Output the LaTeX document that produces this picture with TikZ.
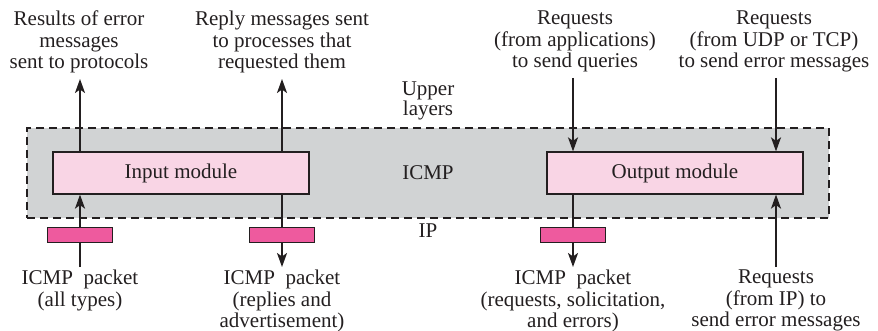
\documentclass[tikz,border=0pt]{standalone}
\usepackage{fontspec}
\setmainfont{Liberation Serif}
\usetikzlibrary{arrows.meta}
\definecolor{ink}{HTML}{231F20}
\definecolor{greyfill}{HTML}{D1D3D4}
\definecolor{modfill}{HTML}{F9D5E5}
\definecolor{pktfill}{HTML}{EE5A9E}
\tikzset{
  lbl/.style={align=center,inner sep=0pt,font=\fontsize{21}{21.5}\selectfont,text=ink},
  greybox/.style={draw=ink,fill=greyfill,dashed,dash pattern=on 8pt off 5pt,line width=1.2pt,minimum width=802pt,minimum height=90pt,inner sep=0pt},
  module/.style={draw=ink,fill=modfill,line width=1.2pt,minimum width=256pt,minimum height=42pt,inner sep=0pt,font=\fontsize{21}{21.5}\selectfont,text=ink},
  pkt/.style={draw=ink,fill=pktfill,line width=1pt,minimum width=65pt,minimum height=14pt,inner sep=0pt},
  arr/.style={draw=ink,line width=1.9pt,-{Stealth[length=14pt,width=10pt,inset=3.5pt]}}
}
\begin{document}
\begin{tikzpicture}[x=1pt,y=-1pt]
\useasboundingbox (0,0) rectangle (878,331);
% grey ICMP region
\node[greybox] (icmp) at (428,173) {};
\node[module] (in) at (181,173) {Input module};
\node[module] (out) at (675,173) {Output module};
% layer labels
\node[lbl,anchor=base] (upper) at (428,96) {Upper};
\node[lbl,anchor=base] (layers) at (428,116) {layers};
\node[lbl,anchor=base] (icmplbl) at (428,180) {ICMP};
\node[lbl,anchor=base] (iplbl) at (428,237) {IP};
% top labels
\node[lbl,anchor=north] (t1) at (79,11) {Results of error\\messages\\sent to protocols};
\node[lbl,anchor=north] (t2) at (282,11) {Reply messages sent\\to processes that\\requested them};
\node[lbl,anchor=north] (t3) at (575,11) {Requests\\(from applications)\\to send queries};
\node[lbl,anchor=north] (t4) at (774,11) {Requests\\(from UDP or TCP)\\to send error messages};
% bottom labels
\node[lbl,anchor=north] (b1) at (80,270) {ICMP~ packet\\(all types)};
\node[lbl,anchor=north] (b2) at (282,270) {ICMP~ packet\\(replies and\\advertisement)};
\node[lbl,anchor=north] (b3) at (573,270) {ICMP~ packet\\(requests, solicitation,\\and errors)};
\node[lbl,anchor=north] (b4) at (776,270) {Requests\\(from IP) to\\send error messages};
% arrow end points
\coordinate (u1) at (80,79);
\coordinate (u2) at (282,79);
\coordinate (d3) at (573,78);
\coordinate (d4) at (776,78);
\coordinate (l1) at (80,267);
\coordinate (l2) at (282,267);
\coordinate (l3) at (573,267);
\coordinate (l4) at (776,267);
% arrows upper side
\draw[arr] (in.north -| u1) -- (u1);
\draw[arr] (in.north -| u2) -- (u2);
\draw[arr] (d3) -- (out.north -| d3);
\draw[arr] (d4) -- (out.north -| d4);
% arrows lower side
\draw[arr] (l1) -- (in.south -| l1);
\draw[arr] (in.south -| l2) -- (l2);
\draw[arr] (out.south -| l3) -- (l3);
\draw[arr] (l4) -- (out.south -| l4);
% packets
\node[pkt] (p1) at (80,235) {};
\node[pkt] (p2) at (282,235) {};
\node[pkt] (p3) at (573,235) {};
\end{tikzpicture}
\end{document}
